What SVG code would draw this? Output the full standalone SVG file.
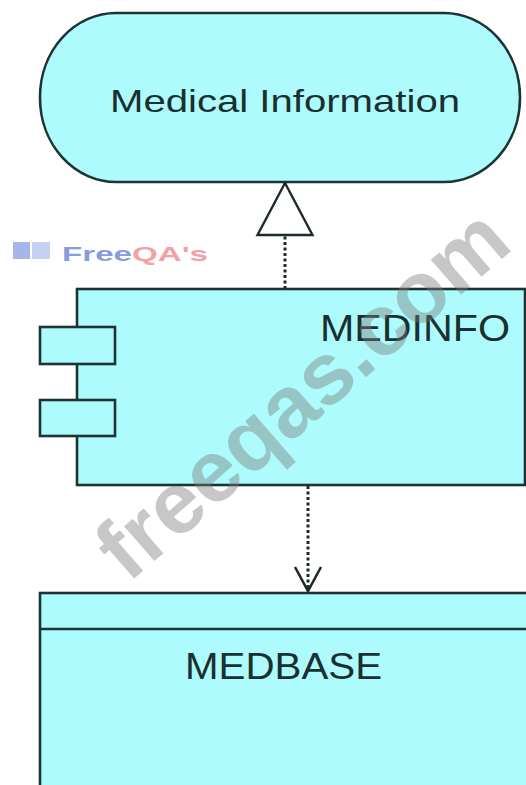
<svg xmlns="http://www.w3.org/2000/svg" width="526" height="785" viewBox="0 0 526 785">
  <style>
    .shape { fill: #adfbfc; stroke: #1d3434; stroke-width: 2.6; }
    .label { font-family: "Liberation Sans", Arial, sans-serif; fill: #1a2f30; }
    .dep { fill: none; stroke: #1d2a2a; stroke-width: 3; stroke-dasharray: 3 2.5; }
    .wm { font-family: "Liberation Sans", Arial, sans-serif; font-weight: bold; }
  </style>
  <defs>
    <marker id="realize" viewBox="-2 -30 57 60" refX="52" refY="0" markerWidth="57" markerHeight="60" markerUnits="userSpaceOnUse" orient="auto">
      <path d="M52,0 L0,-27.5 L0,27.5 Z" fill="#ffffff" stroke="#1d2a2a" stroke-width="2.4" stroke-linejoin="miter"/>
    </marker>
    <marker id="open" viewBox="-2 -16 28 32" refX="24" refY="0" markerWidth="28" markerHeight="32" markerUnits="userSpaceOnUse" orient="auto">
      <path d="M0,-13 L24,0 L0,13" fill="none" stroke="#1d2a2a" stroke-width="2.6"/>
    </marker>
  </defs>
  <rect width="526" height="785" fill="#ffffff"/>

  <g id="node-medical-information">
    <rect class="shape" x="40" y="13" width="480" height="169" rx="76" ry="84"/>
    <text class="label" x="285" y="112" font-size="32" text-anchor="middle" textLength="350" lengthAdjust="spacingAndGlyphs">Medical Information</text>
  </g>

  <g id="node-medinfo">
    <rect class="shape" x="77" y="289" width="448" height="196"/>
    <rect class="shape" x="40" y="327" width="75" height="37"/>
    <rect class="shape" x="40" y="400" width="75" height="36"/>
    <text class="label" x="320" y="341" font-size="36" textLength="190" lengthAdjust="spacingAndGlyphs">MEDINFO</text>
  </g>

  <g id="node-medbase">
    <rect class="shape" x="40" y="593" width="490" height="210"/>
    <line x1="40" y1="629" x2="530" y2="629" stroke="#1d3434" stroke-width="2.6"/>
    <text class="label" x="185" y="679" font-size="37" textLength="197" lengthAdjust="spacingAndGlyphs">MEDBASE</text>
  </g>

  <g id="connectors">
    <path class="dep" d="M285,289 L285,183" marker-end="url(#realize)"/>
    <path class="dep" d="M308,486 L308,591" marker-end="url(#open)"/>
  </g>

  <g id="watermark">
    <text class="wm" x="128" y="584" font-size="87" fill="#7a7a7a" fill-opacity="0.42" transform="rotate(-41 128 584)">freeqas.com</text>
    <rect x="13" y="242" width="17" height="17" fill="#8fa4e6" fill-opacity="0.8"/>
    <rect x="32" y="242" width="18" height="17" fill="#b8c4f0" fill-opacity="0.8"/>
    <text class="wm" x="62" y="261" font-size="21" textLength="146" lengthAdjust="spacingAndGlyphs"><tspan fill="#8a9ae0">Free</tspan><tspan fill="#f2a2a2">QA's</tspan></text>
  </g>
</svg>
